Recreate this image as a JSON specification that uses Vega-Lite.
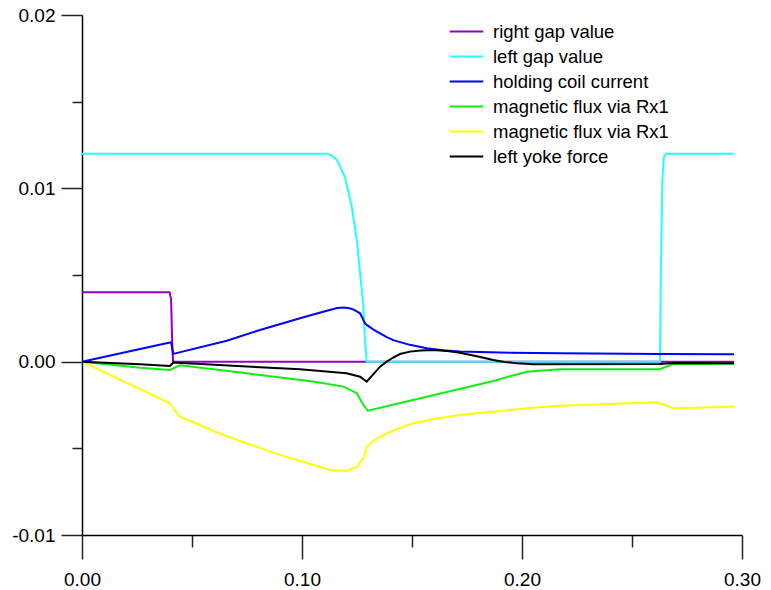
{
  "$schema": "https://vega.github.io/schema/vega-lite/v6.json",
  "width": 660,
  "height": 520,
  "autosize": {"type": "none"},
  "padding": {"left": 82, "top": 15, "right": 29, "bottom": 55},
  "background": "white",
  "config": {
    "view": {"stroke": null},
    "axis": {"grid": false, "labelFont": "Liberation Sans", "labelFontSize": 19, "labelColor": "black", "domainColor": "black", "domainWidth": 1.5, "tickColor": "#222222", "tickWidth": 1.5, "title": null}
  },
  "data": {"values": [
    {"s": "right gap value", "x": 0, "y": 0.004},
    {"s": "right gap value", "x": 0.0398, "y": 0.004},
    {"s": "right gap value", "x": 0.0405, "y": 0.0036},
    {"s": "right gap value", "x": 0.041, "y": 0.001},
    {"s": "right gap value", "x": 0.0414, "y": 0},
    {"s": "right gap value", "x": 0.2964, "y": 0},

    {"s": "left gap value", "x": 0, "y": 0.012},
    {"s": "left gap value", "x": 0.1112, "y": 0.012},
    {"s": "left gap value", "x": 0.1135, "y": 0.0119},
    {"s": "left gap value", "x": 0.1158, "y": 0.01164},
    {"s": "left gap value", "x": 0.1195, "y": 0.01067},
    {"s": "left gap value", "x": 0.1226, "y": 0.00894},
    {"s": "left gap value", "x": 0.1249, "y": 0.00702},
    {"s": "left gap value", "x": 0.1264, "y": 0.0051},
    {"s": "left gap value", "x": 0.1279, "y": 0.00317},
    {"s": "left gap value", "x": 0.1286, "y": 0.00125},
    {"s": "left gap value", "x": 0.1294, "y": 0},
    {"s": "left gap value", "x": 0.2627, "y": 0},
    {"s": "left gap value", "x": 0.2632, "y": 0.006},
    {"s": "left gap value", "x": 0.2638, "y": 0.0105},
    {"s": "left gap value", "x": 0.2645, "y": 0.0118},
    {"s": "left gap value", "x": 0.2655, "y": 0.012},
    {"s": "left gap value", "x": 0.2964, "y": 0.012},

    {"s": "holding coil current", "x": 0, "y": 0},
    {"s": "holding coil current", "x": 0.0264, "y": 0.00073},
    {"s": "holding coil current", "x": 0.04, "y": 0.0011},
    {"s": "holding coil current", "x": 0.0405, "y": 0.00112},
    {"s": "holding coil current", "x": 0.0415, "y": 0.00045},
    {"s": "holding coil current", "x": 0.0658, "y": 0.00121},
    {"s": "holding coil current", "x": 0.0809, "y": 0.00183},
    {"s": "holding coil current", "x": 0.0991, "y": 0.0025},
    {"s": "holding coil current", "x": 0.11, "y": 0.00289},
    {"s": "holding coil current", "x": 0.116, "y": 0.0031},
    {"s": "holding coil current", "x": 0.1188, "y": 0.00313},
    {"s": "holding coil current", "x": 0.121, "y": 0.0031},
    {"s": "holding coil current", "x": 0.1233, "y": 0.00302},
    {"s": "holding coil current", "x": 0.1264, "y": 0.00279},
    {"s": "holding coil current", "x": 0.1286, "y": 0.00222},
    {"s": "holding coil current", "x": 0.1294, "y": 0.00212},
    {"s": "holding coil current", "x": 0.1325, "y": 0.00185},
    {"s": "holding coil current", "x": 0.1355, "y": 0.00163},
    {"s": "holding coil current", "x": 0.1385, "y": 0.00142},
    {"s": "holding coil current", "x": 0.1415, "y": 0.00124},
    {"s": "holding coil current", "x": 0.149, "y": 0.00097},
    {"s": "holding coil current", "x": 0.1567, "y": 0.00077},
    {"s": "holding coil current", "x": 0.164, "y": 0.00066},
    {"s": "holding coil current", "x": 0.1718, "y": 0.00058},
    {"s": "holding coil current", "x": 0.1945, "y": 0.00052},
    {"s": "holding coil current", "x": 0.2173, "y": 0.00048},
    {"s": "holding coil current", "x": 0.2627, "y": 0.00044},
    {"s": "holding coil current", "x": 0.2964, "y": 0.00043},

    {"s": "magnetic flux via Rx1 (green)", "x": 0, "y": 0},
    {"s": "magnetic flux via Rx1 (green)", "x": 0.0264, "y": -0.00035},
    {"s": "magnetic flux via Rx1 (green)", "x": 0.04, "y": -0.00048},
    {"s": "magnetic flux via Rx1 (green)", "x": 0.0445, "y": -0.00021},
    {"s": "magnetic flux via Rx1 (green)", "x": 0.0749, "y": -0.00067},
    {"s": "magnetic flux via Rx1 (green)", "x": 0.1051, "y": -0.00115},
    {"s": "magnetic flux via Rx1 (green)", "x": 0.1188, "y": -0.00144},
    {"s": "magnetic flux via Rx1 (green)", "x": 0.1249, "y": -0.00182},
    {"s": "magnetic flux via Rx1 (green)", "x": 0.1279, "y": -0.0025},
    {"s": "magnetic flux via Rx1 (green)", "x": 0.1299, "y": -0.00283},
    {"s": "magnetic flux via Rx1 (green)", "x": 0.1567, "y": -0.00202},
    {"s": "magnetic flux via Rx1 (green)", "x": 0.187, "y": -0.00111},
    {"s": "magnetic flux via Rx1 (green)", "x": 0.2021, "y": -0.00058},
    {"s": "magnetic flux via Rx1 (green)", "x": 0.2173, "y": -0.00044},
    {"s": "magnetic flux via Rx1 (green)", "x": 0.2627, "y": -0.00044},
    {"s": "magnetic flux via Rx1 (green)", "x": 0.2688, "y": -0.00013},
    {"s": "magnetic flux via Rx1 (green)", "x": 0.2964, "y": -0.00012},

    {"s": "magnetic flux via Rx1 (yellow)", "x": 0, "y": 0},
    {"s": "magnetic flux via Rx1 (yellow)", "x": 0.04, "y": -0.0024},
    {"s": "magnetic flux via Rx1 (yellow)", "x": 0.0415, "y": -0.00269},
    {"s": "magnetic flux via Rx1 (yellow)", "x": 0.0445, "y": -0.00317},
    {"s": "magnetic flux via Rx1 (yellow)", "x": 0.0642, "y": -0.00423},
    {"s": "magnetic flux via Rx1 (yellow)", "x": 0.09, "y": -0.00538},
    {"s": "magnetic flux via Rx1 (yellow)", "x": 0.1127, "y": -0.00625},
    {"s": "magnetic flux via Rx1 (yellow)", "x": 0.1203, "y": -0.00631},
    {"s": "magnetic flux via Rx1 (yellow)", "x": 0.1249, "y": -0.00606},
    {"s": "magnetic flux via Rx1 (yellow)", "x": 0.1279, "y": -0.00557},
    {"s": "magnetic flux via Rx1 (yellow)", "x": 0.1294, "y": -0.00492},
    {"s": "magnetic flux via Rx1 (yellow)", "x": 0.1325, "y": -0.00456},
    {"s": "magnetic flux via Rx1 (yellow)", "x": 0.137, "y": -0.00423},
    {"s": "magnetic flux via Rx1 (yellow)", "x": 0.1435, "y": -0.00386},
    {"s": "magnetic flux via Rx1 (yellow)", "x": 0.1506, "y": -0.00355},
    {"s": "magnetic flux via Rx1 (yellow)", "x": 0.161, "y": -0.00328},
    {"s": "magnetic flux via Rx1 (yellow)", "x": 0.1718, "y": -0.00308},
    {"s": "magnetic flux via Rx1 (yellow)", "x": 0.2021, "y": -0.00269},
    {"s": "magnetic flux via Rx1 (yellow)", "x": 0.2173, "y": -0.00254},
    {"s": "magnetic flux via Rx1 (yellow)", "x": 0.2612, "y": -0.00234},
    {"s": "magnetic flux via Rx1 (yellow)", "x": 0.2636, "y": -0.00244},
    {"s": "magnetic flux via Rx1 (yellow)", "x": 0.2688, "y": -0.00269},
    {"s": "magnetic flux via Rx1 (yellow)", "x": 0.2964, "y": -0.0026},

    {"s": "left yoke force", "x": 0, "y": 0},
    {"s": "left yoke force", "x": 0.0264, "y": -0.00015},
    {"s": "left yoke force", "x": 0.04, "y": -0.00025},
    {"s": "left yoke force", "x": 0.0415, "y": -0.00005},
    {"s": "left yoke force", "x": 0.0809, "y": -0.00032},
    {"s": "left yoke force", "x": 0.0991, "y": -0.00044},
    {"s": "left yoke force", "x": 0.1203, "y": -0.00067},
    {"s": "left yoke force", "x": 0.1264, "y": -0.00087},
    {"s": "left yoke force", "x": 0.1294, "y": -0.00115},
    {"s": "left yoke force", "x": 0.1355, "y": -0.00029},
    {"s": "left yoke force", "x": 0.1385, "y": 0},
    {"s": "left yoke force", "x": 0.1415, "y": 0.00024},
    {"s": "left yoke force", "x": 0.1445, "y": 0.00044},
    {"s": "left yoke force", "x": 0.1491, "y": 0.00058},
    {"s": "left yoke force", "x": 0.154, "y": 0.00065},
    {"s": "left yoke force", "x": 0.1597, "y": 0.00068},
    {"s": "left yoke force", "x": 0.166, "y": 0.00062},
    {"s": "left yoke force", "x": 0.1718, "y": 0.00052},
    {"s": "left yoke force", "x": 0.18, "y": 0.0003},
    {"s": "left yoke force", "x": 0.187, "y": 0.0001},
    {"s": "left yoke force", "x": 0.192, "y": -0.00002},
    {"s": "left yoke force", "x": 0.1976, "y": -0.00009},
    {"s": "left yoke force", "x": 0.2052, "y": -0.00015},
    {"s": "left yoke force", "x": 0.2627, "y": -0.00013},
    {"s": "left yoke force", "x": 0.2686, "y": -0.00008},
    {"s": "left yoke force", "x": 0.2964, "y": -0.00009}
  ]},
  "mark": {"type": "line", "strokeWidth": 2},
  "encoding": {
    "x": {
      "field": "x", "type": "quantitative",
      "scale": {"domain": [0, 0.3], "nice": false, "zero": false},
      "axis": {
        "values": [0, 0.05, 0.1, 0.15, 0.2, 0.25, 0.3],
        "labelExpr": "abs(datum.value*10 - round(datum.value*10)) < 0.001 ? format(datum.value, '.2f') : ''",
        "tickSize": {"condition": {"test": "abs(datum.value*10 - round(datum.value*10)) < 0.001", "value": 24}, "value": 12},
        "labelPadding": 11,
        "labelFlush": false
      }
    },
    "y": {
      "field": "y", "type": "quantitative",
      "scale": {"domain": [-0.01, 0.02], "nice": false, "zero": false},
      "axis": {
        "values": [-0.01, -0.005, 0, 0.005, 0.01, 0.015, 0.02],
        "labelExpr": "abs(datum.value*100 - round(datum.value*100)) < 0.001 ? (datum.value < -0.000001 ? '-' + format(-datum.value, '.2f') : format(abs(datum.value), '.2f')) : ''",
        "tickSize": {"condition": {"test": "abs(datum.value*100 - round(datum.value*100)) < 0.001", "value": 21}, "value": 10},
        "labelPadding": 6,
        "labelFlush": false
      }
    },
    "color": {
      "field": "s", "type": "nominal",
      "scale": {
        "domain": ["right gap value", "left gap value", "holding coil current", "magnetic flux via Rx1 (green)", "magnetic flux via Rx1 (yellow)", "left yoke force"],
        "range": ["#9400c8", "#22ffff", "#0000ff", "#11ee11", "#ffff00", "#000000"]
      },
      "legend": {
        "title": null,
        "orient": "none",
        "legendX": 372,
        "legendY": 4,
        "padding": 0,
        "labelFont": "Liberation Sans",
        "labelFontSize": 18.5,
        "labelColor": "black",
        "labelExpr": "replace(replace(datum.label, ' (green)', ''), ' (yellow)', '')",
        "symbolType": "M-1.5,0H1.5",
        "symbolSize": 500,
        "symbolStrokeWidth": 2,
        "labelOffset": 14,
        "rowPadding": 3,
        "labelLimit": 400
      }
    }
  }
}
